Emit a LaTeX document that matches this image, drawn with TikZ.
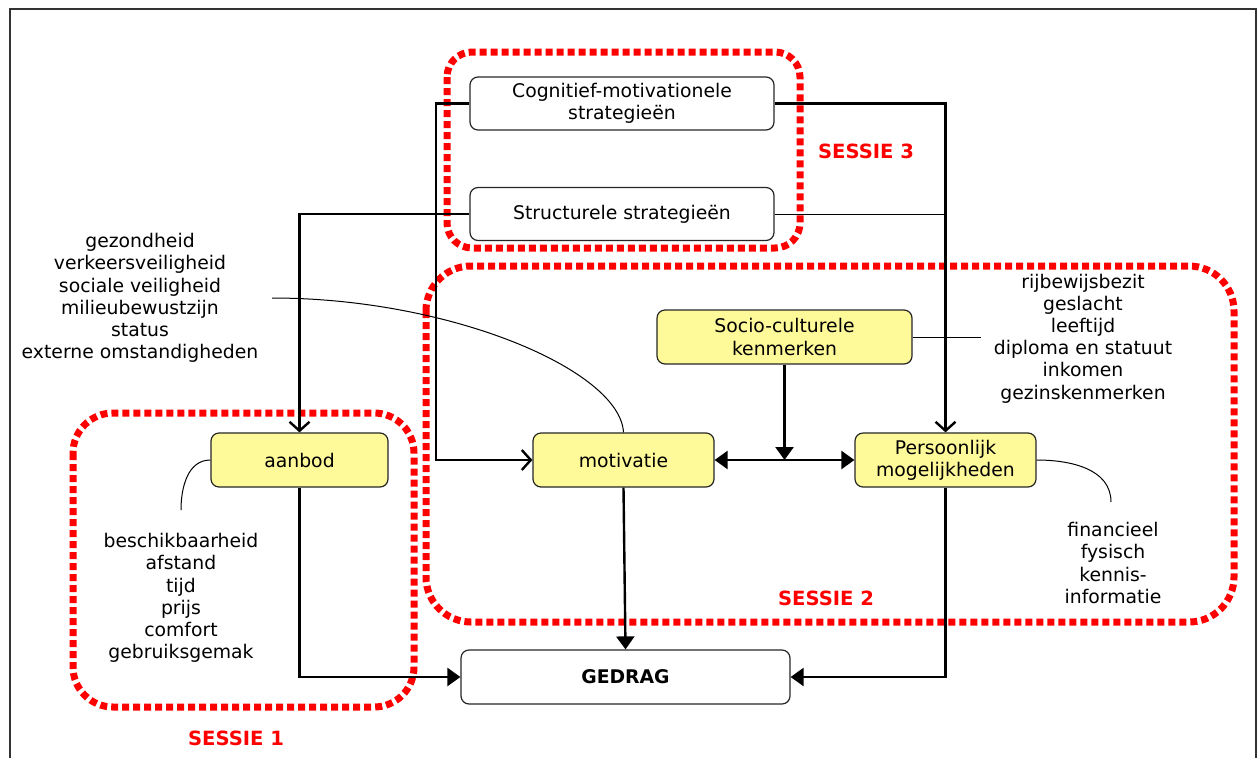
\documentclass[tikz,border=0pt]{standalone}
\usepackage{fontspec}
\setmainfont{DejaVu Sans}
\usetikzlibrary{arrows.meta}

\begin{document}
\begin{tikzpicture} [
						x=1pt, y=-1pt,
						every node/.style={font=\fontsize{18.8}{22.2}\selectfont},
						box/.style={draw=black!85, line width=1.2, rounded corners=8, align=center,
							minimum width=304, minimum height=53, inner sep=0},
						kbox/.style={box, fill=yellow!40, minimum width=181, minimum height=54},
						list/.style={align=center, inner sep=0},
						sessie/.style={draw=red, line width=7, dash pattern=on 7pt off 4pt},
						sessietext/.style={text=red, font=\fontsize{19.6}{22}\selectfont\bfseries},
						conn/.style={line width=2.4},
						thin/.style={line width=1},
						open/.style={-{Straight Barb[length=9,width=20,line width=2.4]}},
						filled/.style={-{Triangle[length=13,width=18]}},
						bothfilled/.style={{Triangle[length=13,width=18]}-{Triangle[length=13,width=18]}}
					]

\useasboundingbox (0,0) rectangle (1257,758);
\draw[line width=1.4, black!80] (10,758) -- (10,9) -- (1256,9) -- (1256,758);

% sessies
\draw[sessie, rounded corners=25] (447,52) rectangle (800,248);
\draw[sessie, rounded corners=45] (426,266) rectangle (1234,622);
\draw[sessie, rounded corners=40] (73,413) rectangle (414,707);

\node (s3) [sessietext] at (866,151) {SESSIE 3};
\node (s2) [sessietext] at (826,598) {SESSIE 2};
\node (s1) [sessietext] at (236,738) {SESSIE 1};

% blokken
\node (cog) [box] at (622,103.5) {Cognitief-motivationele\\strategieën};
\node (str) [box] at (622,214) {Structurele strategieën};
\node (soc) [kbox, minimum width=255] at (784.5,337) {Socio-culturele\\kenmerken};
\node (aan) [kbox, minimum width=177] at (299.5,460) {aanbod};
\node (mot) [kbox] at (623.5,460) {motivatie};
\node (per) [kbox] at (945.5,460) {Persoonlijk\\mogelijkheden};
\node (ged) [box, minimum width=329, minimum height=54] at (625.5,677) {\textbf{GEDRAG}};

% lijsten
\node (l1) [list] at (140,298) {gezondheid\\verkeersveiligheid\\sociale veiligheid\\milieubewustzijn\\status\\externe omstandigheden};
\node (l2) [list] at (1083,338.5) {rijbewijsbezit\\geslacht\\leeftijd\\diploma en statuut\\inkomen\\gezinskenmerken};
\node (l3) [list] at (181,598) {beschikbaarheid\\afstand\\tijd\\prijs\\comfort\\gebruiksgemak};
\node (l4) [list] at (1113,563) {financieel\\fysisch\\kennis-\\informatie};

\coordinate (c1) at (436,103.5);
\coordinate (j) at (784.5,460);
\coordinate (k) at (945.5,214);
\coordinate (m) at (981,337);
\coordinate (a1) at (272,298);
\coordinate (a2) at (181,510);
\coordinate (a3) at (1111,502);

% verbindingen
\draw[conn, open] (cog.west) -- (c1) |- (mot.west);
\draw[conn, open] (cog.east) -| (per.north);
\draw[conn, open] (str.west) -| (aan.north);
\draw[conn, filled] (aan.south) |- (ged.west);
\draw[conn, filled] (per.south) |- (ged.east);
\draw[conn, filled] (mot.south) -- (ged.north);
\draw[conn, bothfilled] (mot.east) -- (per.west);
\draw[conn, filled] (soc.south) -- (j);

\draw[thin] (str.east) -- (k);
\draw[thin] (soc.east) -- (m);
\draw[thin] (a1) .. controls (450,298) and (620,370) .. (mot.north);
\draw[thin] (aan.west) to[out=180, in=90] (a2);
\draw[thin] (per.east) to[out=0, in=90] (a3);
\end{tikzpicture}
\end{document}
